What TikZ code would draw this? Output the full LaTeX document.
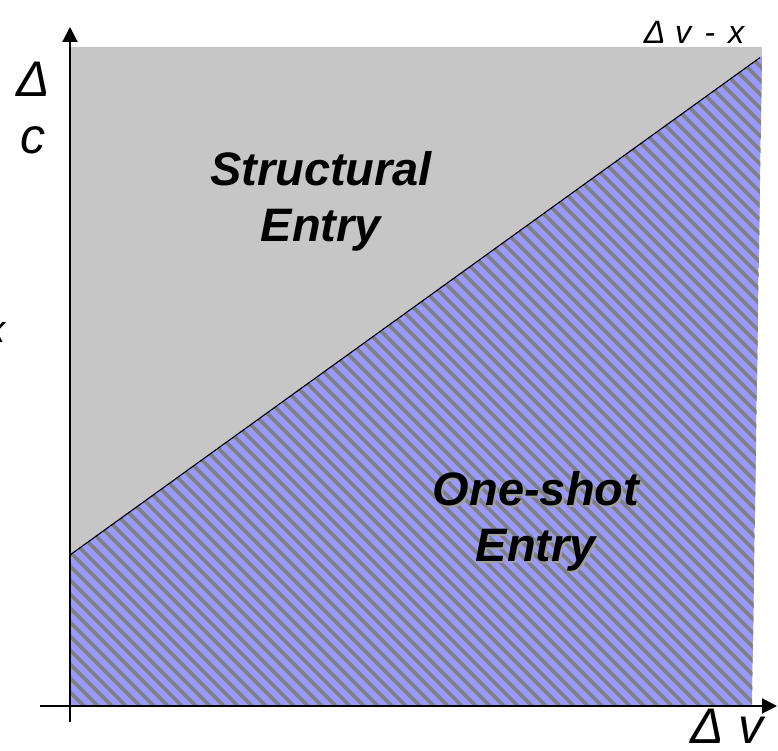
\documentclass[tikz,border=0pt]{standalone}
\usepackage{fontspec}
\setmainfont{Liberation Sans}
\usetikzlibrary{arrows.meta}

\definecolor{fondogris}{RGB}{198,198,198}
\definecolor{azul}{RGB}{153,153,255}
\definecolor{rayagris}{RGB}{128,128,128}
\definecolor{sombra}{RGB}{160,160,160}

\tikzset{
  eje/.style={line width=1.4pt, -{Triangle[length=0.375cm,width=0.375cm]}},
  zona/.style={font=\bfseries\itshape\fontsize{33.4}{39.8}\selectfont, align=center, inner sep=0pt},
  etiqueta/.style={font=\itshape\fontsize{35.6}{40.5}\selectfont, align=center, inner sep=0pt},
  raya/.style={line width=0.095cm, rayagris},
}

\begin{document}
\begin{tikzpicture}

        \useasboundingbox (-1.75,-1.125) rectangle (17.7,17.65);

        % Esquinas de las regiones
        \coordinate (O) at (0,0);
        \coordinate (P) at (0,3.775);
        \coordinate (Q) at (17.3,16.25);
        \coordinate (R) at (17.05,0);
        \coordinate (S) at (17.3,16.475);
        \coordinate (T) at (0,16.475);

        % Region gris (entrada estructural)
        \fill[fondogris] (O) -- (T) -- (S) -- (R) -- cycle;

        % Region rayada (entrada de una vez)
        \begin{scope}
          \clip (O) -- (P) -- (Q) -- (R) -- cycle;
          \fill[azul] (O) -- (P) -- (Q) -- (R) -- cycle;
          \foreach \c in {0,0.35,...,35} {
            \draw[raya] (\c,0) -- ++(-18,18);
          }
        \end{scope}

        % Frontera entre las regiones
        \draw[line width=0.8pt] (P) -- (17.25,16.21);

        % Ejes
        \coordinate (xini) at (-0.75,0);
        \coordinate (xfin) at (17.675,0);
        \coordinate (yini) at (0,-0.4);
        \coordinate (yfin) at (0,16.975);
        \draw[eje] (xini) -- (xfin);
        \draw[eje] (yini) -- (yfin);

        % Etiquetas de los ejes
        \node[etiqueta] (dc) at (-0.925,14.94) {Δ\\c};
        \node[etiqueta, font=\itshape\fontsize{27}{30}\selectfont] (xizq) at (-1.84,9.33) {x};
        \node[etiqueta, font=\itshape\fontsize{23}{26}\selectfont] (dvx) at (15.6,16.85)
          {Δ\hspace{0.3em}v\hspace{0.4em}-\hspace{0.4em}x};
        \node[etiqueta] (dv) at (16.425,-0.5) {Δ v};

        % Nombres de las regiones
        \node[zona] (estructural) at (6.275,12.625) {Structural\\Entry};
        \node[zona, sombra] at (11.7,4.575) {One-shot\\Entry};
        \node[zona] (oneshot) at (11.65,4.625) {One-shot\\Entry};

    \end{tikzpicture}
\end{document}
